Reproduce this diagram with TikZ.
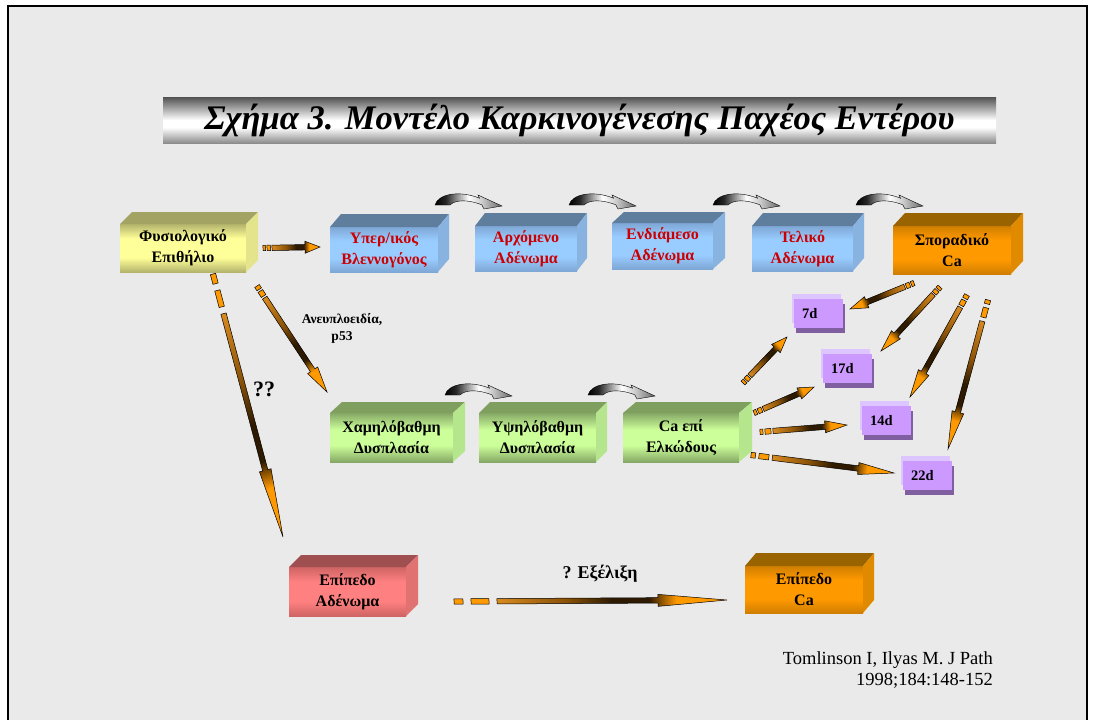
\documentclass[tikz,border=0pt]{standalone}
\usepackage{fontspec}
\setmainfont{Liberation Serif}
\usetikzlibrary{calc}

% palette
\definecolor{bg}{HTML}{EAEAEA}
\definecolor{redtxt}{HTML}{CC0000}
\definecolor{ylwlt}{HTML}{FFFF99}\definecolor{ylwdk}{HTML}{B4B46C}
\definecolor{ylwtop}{HTML}{A3A363}\definecolor{ylwside}{HTML}{E4E48C}
\definecolor{blult}{HTML}{99CCFF}\definecolor{bludk}{HTML}{7EA7D6}
\definecolor{blutop}{HTML}{5F7E9E}\definecolor{bluside}{HTML}{88B2E0}
\definecolor{orglt}{HTML}{FF9900}\definecolor{orgdk}{HTML}{D07E00}
\definecolor{orgtop}{HTML}{996300}\definecolor{orgside}{HTML}{E08A00}
\definecolor{grnlt}{HTML}{CCFF99}\definecolor{grndk}{HTML}{86A866}
\definecolor{grntop}{HTML}{7F9F5F}\definecolor{grnside}{HTML}{B5E58C}
\definecolor{redlt}{HTML}{FF8080}\definecolor{reddk}{HTML}{CF6464}
\definecolor{redtop}{HTML}{9F4F4F}\definecolor{redside}{HTML}{E07272}
\definecolor{pmain}{HTML}{CC99FF}\definecolor{plight}{HTML}{DDC6FF}
\definecolor{pdark}{HTML}{7F5F9F}
\definecolor{ao1}{HTML}{D88A20}\definecolor{amid}{HTML}{8A5208}
\definecolor{adk}{HTML}{2E1A00}\definecolor{ao2}{HTML}{FF9900}

% front-face shadings (darker rims, bright centre)
\pgfdeclareverticalshading{ylwfront}{100bp}{color(0bp)=(ylwdk); color(25bp)=(ylwdk); color(40bp)=(ylwlt); color(60bp)=(ylwlt); color(75bp)=(ylwdk); color(100bp)=(ylwdk)}
\pgfdeclareverticalshading{blufront}{100bp}{color(0bp)=(bludk); color(25bp)=(bludk); color(40bp)=(blult); color(60bp)=(blult); color(75bp)=(bludk); color(100bp)=(bludk)}
\pgfdeclareverticalshading{orgfront}{100bp}{color(0bp)=(orgdk); color(25bp)=(orgdk); color(40bp)=(orglt); color(60bp)=(orglt); color(75bp)=(orgdk); color(100bp)=(orgdk)}
\pgfdeclareverticalshading{grnfront}{100bp}{color(0bp)=(grndk); color(25bp)=(grndk); color(42bp)=(grnlt); color(58bp)=(grnlt); color(75bp)=(grndk); color(100bp)=(grndk)}
\pgfdeclareverticalshading{redfront}{100bp}{color(0bp)=(reddk); color(25bp)=(reddk); color(40bp)=(redlt); color(60bp)=(redlt); color(75bp)=(reddk); color(100bp)=(reddk)}
\pgfdeclareverticalshading{titlegrad}{100bp}{color(0bp)=(black!45); color(25bp)=(black!45); color(42bp)=(white); color(50bp)=(white); color(75bp)=(black!68); color(100bp)=(black!68)}
\pgfdeclarehorizontalshading{arrgrad}{100bp}{color(0bp)=(ao1); color(25bp)=(ao1); color(40bp)=(amid); color(50bp)=(adk); color(58bp)=(adk); color(64bp)=(ao2); color(100bp)=(ao2)}
\pgfdeclarehorizontalshading{curvgrad}{100bp}{color(0bp)=(black); color(25bp)=(black); color(33bp)=(black!85); color(50bp)=(white); color(60bp)=(black!20); color(75bp)=(black!60); color(100bp)=(black!60)}

\tikzset{
  face/.style={shade, inner sep=0pt, outer sep=0pt, anchor=north west, align=center,
    font=\fontsize{16}{21}\selectfont\bfseries},
  tailsq/.style={fill=orglt, draw=black, line width=0.5pt},
  arrowbody/.style={shading=arrgrad, draw=black, line width=0.5pt, line join=miter},
  curv/.style={shading=curvgrad, draw=black, line width=0.4pt},
  pbox/.style={fill=pmain, inner ysep=0pt, inner xsep=8pt, text width=33pt,
    minimum height=29pt, anchor=north west, align=left,
    font=\fontsize{14.5}{16}\selectfont\bfseries},
  lbl/.style={font=\bfseries, align=center, inner sep=0pt}
}

% 3-D box: name, x1, y1, x2, y2, depth x, depth y, palette, text
\newcommand\cube[9]{%
  \pgfmathsetmacro\cw{#4-#2}\pgfmathsetmacro\ch{#5-#3}%
  \node[face, shading=#8front, minimum width=\cw pt, minimum height=\ch pt] (#1) at (#2,#3) {#9};
  \fill[#8top] (#1.north west) -- ++(#6,-#7) -- ++(\cw,0) -- (#1.north east) -- cycle;
  \fill[#8side] (#1.north east) -- ++(#6,-#7) -- ++(0,\ch) -- (#1.south east) -- cycle;
}

% small stacked card: name, x1, y1, text
\newcommand\card[4]{%
  \fill[plight] (#2-2,#3-5) rectangle ++(49,29);
  \fill[pdark] (#2+2,#3+5) rectangle ++(49,29);
  \node[pbox] (#1) at (#2,#3) {#4};
}

% dashed-tail block arrow: start, end, first dash, gap, second dash, head length
\def\bw{2.7pt}\def\hw{6pt}
\newcommand\barrow[6]{%
  \path (#1); \pgfgetlastxy{\ax}{\ay}%
  \path (#2); \pgfgetlastxy{\bx}{\by}%
  \pgfmathsetmacro\aang{atan2((\by)-(\ay),(\bx)-(\ax))}%
  \pgfmathsetmacro\alen{veclen((\bx)-(\ax),(\by)-(\ay))}%
  \pgfmathsetmacro\sa{#3}%
  \pgfmathsetmacro\sb{#3+#4}%
  \pgfmathsetmacro\sc{#3+#4+#5}%
  \pgfmathsetmacro\sd{#3+2*#4+#5}%
  \pgfmathsetmacro\se{\alen-#6}%
  \begin{scope}[transform canvas={shift={(#1)},rotate=\aang}]
    \filldraw[tailsq] (0pt,-\bw) rectangle (\sa pt,\bw);
    \filldraw[tailsq] (\sb pt,-\bw) rectangle (\sc pt,\bw);
    \shade[arrowbody] (\sd pt,\bw) -- (\se pt,\bw) -- (\se pt,\hw) -- (\alen pt,0pt)
      -- (\se pt,-\hw) -- (\se pt,-\bw) -- (\sd pt,-\bw) -- cycle;
  \end{scope}
}

% curved step arrow, placed by its lower-left tail corner
\newcommand\curvarrow[1]{%
  \begin{scope}[shift={(#1)}]
    \shade[curv] (0,0) .. controls (3,-11) and (24,-15) .. (44.5,-6.8) -- (43,-10) -- (67,1)
      -- (49,4) -- (46.8,-0.2) .. controls (32,-6) and (20,-5) .. (15,0) -- cycle;
  \end{scope}
}

\begin{document}
\begin{tikzpicture}[x=1pt,y=-1pt]
\useasboundingbox (0,0) rectangle (1093,720);
\fill[white] (0,0) rectangle (1093,720);
\fill[bg] (8,6) rectangle (1087,720);
\draw[line width=2.2pt] (8,720) -- (8,6) -- (1087,6) -- (1087,720);

% title banner
\node[shade, shading=titlegrad, minimum width=833pt, minimum height=46pt, inner sep=0pt,
      font=\fontsize{34.5}{38}\selectfont\bfseries\itshape] (title) at (579.5,120)
  {Σχήμα 3. Μοντέλο Καρκινογένεσης Παχέος Εντέρου};

% top row
\cube{fys}{120}{224}{246}{272}{12}{12}{ylw}{Φυσιολογικό\\Επιθήλιο}
\cube{hyp}{330}{227}{438}{272}{11}{13}{blu}{\color{redtxt}Υπερ/ικός\\\color{redtxt}Βλεννογόνος}
\cube{arx}{475}{226}{577}{271}{10}{13}{blu}{\color{redtxt}Αρχόμενο\\\color{redtxt}Αδένωμα}
\cube{end}{612}{223}{713}{269}{12}{11}{blu}{\color{redtxt}Ενδιάμεσο\\\color{redtxt}Αδένωμα}
\cube{tel}{752}{226}{853}{271}{11}{13}{blu}{\color{redtxt}Τελικό\\\color{redtxt}Αδένωμα}
\cube{spo}{893}{226}{1011}{274}{12}{13}{org}{Σποραδικό\\Ca}

% middle row
\cube{low}{330}{413}{453}{462}{12}{11}{grn}{Χαμηλόβαθμη\\Δυσπλασία}
\cube{hig}{479}{413}{596}{462}{11}{11}{grn}{Υψηλόβαθμη\\Δυσπλασία}
\cube{cae}{623}{413}{739}{462}{13}{11}{grn}{Ca επί\\Ελκώδους}

% bottom row
\cube{epa}{289}{567}{406}{616}{12}{12}{red}{Επίπεδο\\Αδένωμα}
\cube{epc}{745}{566}{863}{613}{11}{13}{org}{Επίπεδο\\Ca}

% day cards
\card{d7}{794}{299}{7d}
\card{d17}{823}{354}{17d}
\card{d14}{862}{406}{14d}
\card{d22}{903}{461}{22d}

% step arrows
\curvarrow{435,205}
\curvarrow{569,205}
\curvarrow{713,205}
\curvarrow{856,205}
\curvarrow{445,395}
\curvarrow{588,395}

% arrow end points
\coordinate (a1s) at (263,248);  \coordinate (a1e) at (320,247);
\coordinate (a2s) at (257,286);  \coordinate (a2e) at (327,392);
\coordinate (a3s) at (213,274);  \coordinate (a3e) at (283,537);
\coordinate (a4s) at (454,601.5);\coordinate (a4e) at (727,600);
\coordinate (a5s) at (743,383);  \coordinate (a5e) at (787,337);
\coordinate (a6s) at (754,413);  \coordinate (a6e) at (814,387);
\coordinate (a7s) at (760,432);  \coordinate (a7e) at (847,425);
\coordinate (a8s) at (751,455);  \coordinate (a8e) at (894,473);
\coordinate (a9s) at (914,283);  \coordinate (a9e) at (850,309);
\coordinate (a10s) at (940,287); \coordinate (a10e) at (881,351);
\coordinate (a11s) at (967,295); \coordinate (a11e) at (910,397);
\coordinate (a12s) at (988,300); \coordinate (a12e) at (948,449);

\barrow{a1s}{a1e}{2.5}{1.5}{3.5}{15}
\barrow{a2s}{a2e}{4}{2}{6}{26}
\barrow{a3s}{a3e}{10}{7}{17}{69}
\barrow{a4s}{a4e}{9}{8}{18}{69}
\barrow{a5s}{a5e}{3}{1.5}{4}{16}
\barrow{a6s}{a6e}{3}{1.5}{4}{16}
\barrow{a7s}{a7e}{3}{2}{6}{22}
\barrow{a8s}{a8e}{4.5}{3.5}{10}{36}
\barrow{a9s}{a9e}{3}{1.5}{4}{18}
\barrow{a10s}{a10e}{3}{1.5}{4}{22}
\barrow{a11s}{a11e}{4}{2}{6}{28}
\barrow{a12s}{a12e}{4}{4}{10}{38}

% labels
\node[lbl, font=\fontsize{13.5}{17}\selectfont\bfseries] (ane) at (342,328) {Ανευπλοειδία,\\p53};
\node[lbl, font=\fontsize{22}{24}\selectfont\bfseries] (qq) at (264,389) {??};
\node[lbl, font=\fontsize{18}{20}\selectfont\bfseries] (exe) at (600,574) {? Εξέλιξη};
\node[anchor=north east, align=right, inner sep=0pt,
      font=\fontsize{18.5}{21}\selectfont] (cite) at (993,651)
  {Tomlinson I, Ilyas M. J Path\\1998;184:148-152};
\end{tikzpicture}
\end{document}
